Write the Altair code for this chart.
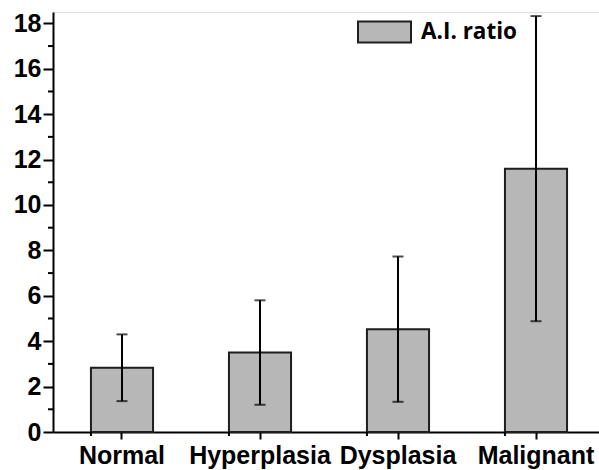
import altair as alt
import pandas as pd

categories = ["Normal", "Hyperplasia", "Dysplasia", "Malignant"]
means = [2.83, 3.50, 4.53, 11.60]
sds = [1.47, 2.30, 3.20, 6.72]
series_name = "A.I. ratio"
major_ticks = [0, 2, 4, 6, 8, 10, 12, 14, 16, 18]
minor_ticks = [1, 3, 5, 7, 9, 11, 13, 15, 17]

df = pd.DataFrame({"group": categories, "mean": means, "sd": sds})
df["lo"] = df["mean"] - df["sd"]
df["hi"] = df["mean"] + df["sd"]
df["series"] = series_name
minor_df = pd.DataFrame({"v": minor_ticks})

FONT = "Liberation Sans"
xscale = alt.Scale(domain=categories, range=[0, 552], paddingInner=0.55, paddingOuter=0.275)
yscale = alt.Scale(domain=[0, 18.5], nice=False, zero=True)

x_axis = alt.Axis(title=None, labelFont=FONT, labelFontWeight="bold", labelFontSize=25,
                  labelColor="black", tickSize=7, tickWidth=2, tickColor="black",
                  domainColor="black", domainWidth=2, labelPadding=4, labelAngle=0,
                  labelOverlap=False, labelFlush=False, grid=False)
y_axis = alt.Axis(title=None, values=major_ticks, labelFont=FONT, labelFontWeight="bold",
                  labelFontSize=25, labelColor="black", tickSize=10, tickWidth=2,
                  tickColor="black", domainColor="black", domainWidth=2, labelPadding=2,
                  grid=False)

base = alt.Chart(df)

bars = base.mark_bar(stroke="#1e1e1e", strokeWidth=2).encode(
    x=alt.X("group:N", scale=xscale, axis=x_axis, sort=categories),
    y=alt.Y("mean:Q", scale=yscale, axis=y_axis),
    fill=alt.Fill("series:N", scale=alt.Scale(domain=[series_name], range=["#b7b7b7"]),
                  legend=alt.Legend(title=None, orient="none", legendX=304, legendY=-7.5,
                                    symbolType="M-1,-0.396H1V0.396H-1Z", symbolSize=2809,
                                    symbolStrokeColor="#1e1e1e", symbolStrokeWidth=2,
                                    symbolFillColor="#b7b7b7", symbolOpacity=1,
                                    labelFont="Open Sans", labelFontWeight="bold",
                                    labelFontSize=22.5, labelColor="black", labelOffset=9,
                                    padding=0)),
)

err = base.mark_rule(color="black", strokeWidth=2).encode(
    x=alt.X("group:N", scale=xscale, sort=categories),
    y=alt.Y("lo:Q", scale=yscale),
    y2="hi:Q",
)
cap_lo = base.mark_tick(color="black", thickness=2, size=11).encode(
    x=alt.X("group:N", scale=xscale, sort=categories),
    y=alt.Y("lo:Q", scale=yscale),
)
cap_hi = base.mark_tick(color="black", thickness=2, size=11).encode(
    x=alt.X("group:N", scale=xscale, sort=categories),
    y=alt.Y("hi:Q", scale=yscale),
)

band_ticks = base.mark_rule(color="black", strokeWidth=2).encode(
    x=alt.X("group:N", scale=xscale, sort=categories, bandPosition=0),
    y=alt.value(420),
    y2=alt.value(424),
)

minor = alt.Chart(minor_df).mark_rule(color="black", strokeWidth=2).encode(
    y=alt.Y("v:Q", scale=yscale),
    x=alt.value(-5),
    x2=alt.value(0),
)

chart = alt.layer(bars, err, cap_lo, cap_hi, band_ticks, minor).properties(
    width=546, height=420,
    autosize=alt.AutoSizeParams(type="none"),
    padding={"left": 53, "top": 12, "right": 0, "bottom": 38},
).configure_view(stroke=None).configure(background="white")

chart.save("out.html", embed_options={"renderer": "svg", "actions": False})
